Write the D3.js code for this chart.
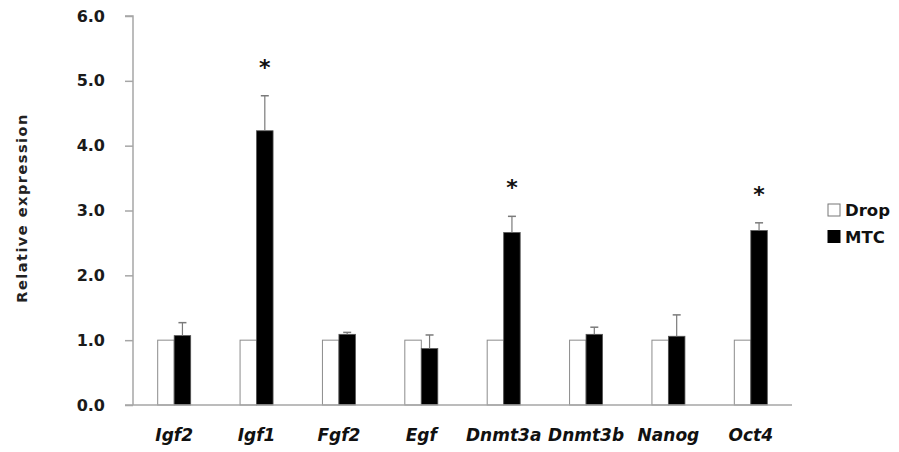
<!DOCTYPE html>
<html><head><meta charset="utf-8">
<script src="https://cdn.jsdelivr.net/npm/d3@7"></script>
<style>body{margin:0;background:#fff}svg{display:block}</style>
</head><body>
<svg id="c" width="899" height="452"></svg>
<script>
const categories = ["Igf2","Igf1","Fgf2","Egf","Dnmt3a","Dnmt3b","Nanog","Oct4"];
const series = ["Drop","MTC"];
const dropValues = [1,1,1,1,1,1,1,1];
const mtcValues = [1.07,4.23,1.09,0.87,2.66,1.09,1.06,2.69];
const mtcErrors = [0.20,0.54,0.03,0.21,0.25,0.11,0.33,0.12];
const significant = [false,true,false,false,true,false,false,true];
const yTicks = [0,1,2,3,4,5,6];

const svg = d3.select("#c");
const m = {left:133, right:792, top:16, bottom:405};
const x = d3.scaleBand().domain(categories).range([m.left, m.right]);
const y = d3.scaleLinear().domain([0,6]).range([m.bottom, m.top]);
const bw = 16.5;
const axisCol = "#a6a6a6";

// y axis
const ya = svg.append("g").attr("transform",`translate(${m.left},0)`)
  .call(d3.axisLeft(y).tickValues(yTicks).tickFormat(d3.format(".1f")).tickSize(8).tickPadding(20));
ya.select(".domain").attr("stroke",axisCol).attr("stroke-width",1.5).attr("d",`M-8,${m.top}H0V${m.bottom}`);
ya.selectAll(".tick line").attr("stroke",axisCol).attr("stroke-width",1.5);
ya.selectAll(".tick text").attr("font-family","DejaVu Sans").attr("font-weight","bold")
  .attr("font-size",16).attr("fill","#1a1a1a");

// bars
const g = svg.append("g");
categories.forEach((c,i)=>{
  const cx = x(c) + x.bandwidth()/2;
  g.append("rect").attr("x",cx-bw).attr("width",bw)
    .attr("y",y(dropValues[i])).attr("height",y(0)-y(dropValues[i]))
    .attr("fill","#fff").attr("stroke","#8c8c8c").attr("stroke-width",1);
  g.append("rect").attr("x",cx).attr("width",bw)
    .attr("y",y(mtcValues[i])).attr("height",y(0)-y(mtcValues[i]))
    .attr("fill","#000").attr("stroke","#555").attr("stroke-width",0.8);
  const ex = cx + bw/2;
  g.append("line").attr("x1",ex).attr("x2",ex)
    .attr("y1",y(mtcValues[i])).attr("y2",y(mtcValues[i]+mtcErrors[i]))
    .attr("stroke","#7a7a7a").attr("stroke-width",1.2);
  g.append("line").attr("x1",ex-4).attr("x2",ex+4)
    .attr("y1",y(mtcValues[i]+mtcErrors[i])).attr("y2",y(mtcValues[i]+mtcErrors[i]))
    .attr("stroke","#7a7a7a").attr("stroke-width",1.5);
  if (significant[i]) {
    g.append("text").attr("x",ex).attr("y",y(mtcValues[i]+mtcErrors[i])-21)
      .attr("text-anchor","middle").attr("font-family","DejaVu Sans").attr("font-weight","bold")
      .attr("font-size",22).attr("fill","#111").text("*");
  }
});

// x axis
svg.append("line").attr("x1",m.left-8).attr("x2",m.right).attr("y1",m.bottom).attr("y2",m.bottom)
  .attr("stroke",axisCol).attr("stroke-width",1.5);
const xa = svg.append("g");
categories.forEach(c=>{
  xa.append("text").attr("x",x(c)+x.bandwidth()/2).attr("y",441)
    .attr("text-anchor","middle").attr("font-family","DejaVu Sans").attr("font-weight","bold")
    .attr("font-style","italic").attr("font-size",17).attr("fill","#111").text(c);
});

// y label
svg.append("text").attr("transform","translate(27,208) rotate(-90)")
  .attr("text-anchor","middle").attr("font-family","DejaVu Sans").attr("font-weight","bold")
  .attr("font-size",14.5).attr("letter-spacing",1.5).attr("fill","#222").text("Relative expression");

// legend
const lg = svg.append("g");
series.forEach((s,i)=>{
  const ly = 210 + i*26.5;
  lg.append("rect").attr("x",828).attr("y",ly-6).attr("width",12).attr("height",12)
    .attr("fill", i===0?"#fff":"#000").attr("stroke", i===0?"#777":"#000").attr("stroke-width",1);
  lg.append("text").attr("x",845).attr("y",ly+6).attr("font-family","DejaVu Sans").attr("font-weight","bold")
    .attr("font-size",16.5).attr("fill","#111").text(s);
});
</script>
</body></html>
